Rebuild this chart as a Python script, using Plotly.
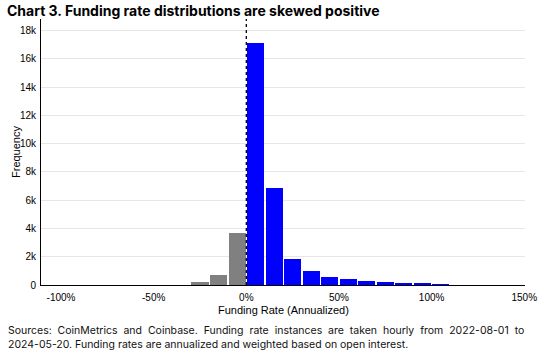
import plotly.graph_objects as go

# Histogram bins (left edge, % annualized) and frequencies
bin_left = [-30, -20, -10, 0, 10, 20, 30, 40, 50, 60, 70, 80, 90, 100]
counts = [200, 700, 3650, 17100, 6850, 1830, 960, 560, 450, 300, 240, 170, 170, 70]
bin_width = 10
x_ticks = [-100, -50, 0, 50, 100, 150]
x_tick_labels = ["-100%", "-50%", "0%", "50%", "100%", "150%"]

title_text = "Chart 3. Funding rate distributions are skewed positive"
footer_line1 = ["Sources:", "CoinMetrics", "and", "Coinbase.", "Funding", "rate", "instances",
                "are", "taken", "hourly", "from", "2022-08-01", "to"]
footer_line2 = "2024-05-20. Funding rates are annualized and weighted based on open interest."

W, H = 544, 361
L, R, T, B = 41, 19, 19, 76
pw = W - L - R
ph = H - T - B

centers = [b + bin_width / 2 for b in bin_left]
colors = ["#808080" if b < 0 else "#0000ff" for b in bin_left]

fig = go.Figure()
fig.add_trace(go.Bar(x=centers, y=counts, width=[bin_width * 0.92] * len(centers),
                     marker=dict(color=colors, line=dict(width=0)), showlegend=False,
                     hoverinfo="skip"))

fig.add_shape(type="line", x0=0, x1=0, y0=0, y1=1, xref="x", yref="paper",
              line=dict(color="black", width=1.3, dash="dot"))

def px_x(p):
    return (p - L) / pw

def px_y(p):
    return (H - B - p) / ph

foot_font = dict(family="Inter", size=10.5, color="#111")
annotations = []
annotations.append(dict(text="\u00a0 ".join(footer_line1), x=px_x(7), y=px_y(330),
                        xref="paper", yref="paper", xanchor="left", yanchor="middle",
                        showarrow=False, borderpad=0, font=foot_font))
annotations.append(dict(text=footer_line2, x=px_x(7), y=px_y(344), xref="paper", yref="paper",
                        xanchor="left", yanchor="middle", showarrow=False, borderpad=0,
                        font=foot_font))
annotations.append(dict(text="<b>" + title_text + "</b>", x=px_x(6), y=px_y(10),
                        xref="paper", yref="paper", xanchor="left", yanchor="middle",
                        showarrow=False, borderpad=0,
                        font=dict(family="Inter", size=14, color="black")))
annotations.append(dict(text="Funding Rate (Annualized)", x=0.5, y=px_y(310),
                        xref="paper", yref="paper", xanchor="center", yanchor="middle",
                        showarrow=False, borderpad=0,
                        font=dict(family="Liberation Sans", size=11, color="black")))
annotations.append(dict(text="Frequency", x=px_x(16), y=0.5, textangle=-90,
                        xref="paper", yref="paper", xanchor="center", yanchor="middle",
                        showarrow=False, borderpad=0,
                        font=dict(family="Liberation Sans", size=11, color="black")))

ymax = max(counts) * 1.1

fig.update_layout(
    width=W, height=H,
    margin=dict(l=L, r=R, t=T, b=B, autoexpand=False),
    paper_bgcolor="white", plot_bgcolor="white",
    bargap=0,
    xaxis=dict(range=[-110.8, 150.4], tickvals=x_ticks, ticktext=x_tick_labels,
               automargin=False, fixedrange=True,
               showgrid=False, zeroline=False, showline=True, linecolor="black", linewidth=1,
               ticks="", ticklabelstandoff=3,
               tickfont=dict(family="Liberation Sans", size=10, color="black")),
    yaxis=dict(range=[0, ymax], dtick=2000, tickformat="~s", automargin=False, fixedrange=True,
               showgrid=True, gridcolor="#e6e6e6", gridwidth=1, zeroline=False,
               showline=True, linecolor="black", linewidth=1, ticks="", ticklabelstandoff=2,
               tickfont=dict(family="Liberation Sans", size=10, color="black")),
    annotations=annotations,
)

fig.write_html("out.html", config={"displayModeBar": False},
               post_script="document.body.style.margin='0';")
